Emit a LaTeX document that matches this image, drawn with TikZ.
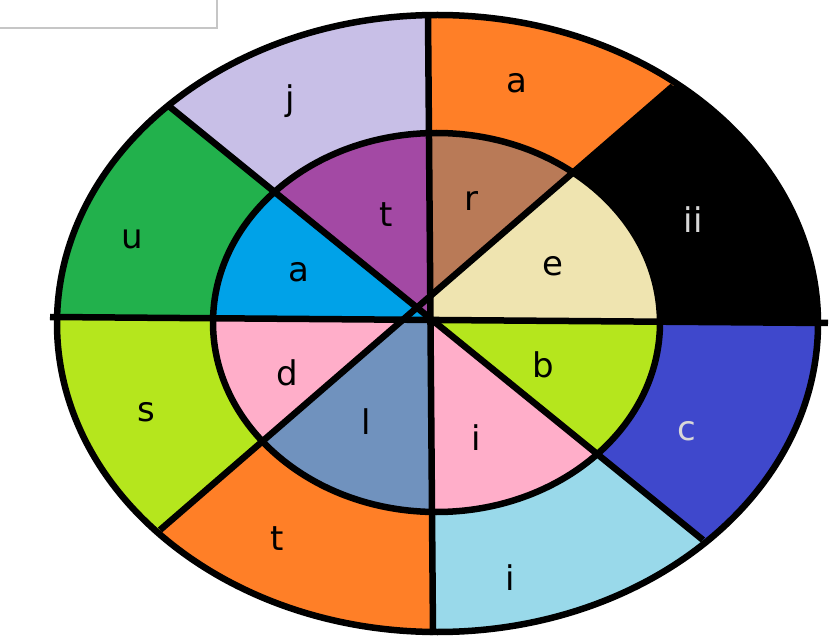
\documentclass[tikz,border=0pt]{standalone}
\usepackage{fontspec}
\setmainfont{DejaVu Sans}
\usetikzlibrary{calc}
\definecolor{cOrange}{HTML}{FF7F27}
\definecolor{cLav}{HTML}{C8BFE7}
\definecolor{cBlue}{HTML}{3F48CC}
\definecolor{cLBlue}{HTML}{99D9EA}
\definecolor{cLime}{HTML}{B5E61D}
\definecolor{cGreen}{HTML}{22B14C}
\definecolor{cPurple}{HTML}{A349A4}
\definecolor{cBrown}{HTML}{B97A57}
\definecolor{cCream}{HTML}{EFE4B0}
\definecolor{cPink}{HTML}{FFAEC9}
\definecolor{cSteel}{HTML}{7092BE}
\definecolor{cCyan}{HTML}{00A2E8}
\definecolor{cLight}{HTML}{D8D8D8}
\begin{document}
\begin{tikzpicture}[x=1pt,y=-1pt,
  lbl/.style={anchor=mid, font=\fontsize{34}{40}\selectfont, inner sep=0pt},
  edge/.style={line width=6.5pt, black},
  rim/.style={line width=6.5pt, black}]
\useasboundingbox (0,0) rectangle (831,639);
% corner box
\draw[gray!45, line width=1.5pt, fill=white] (-10,-10) rectangle (217,28);
% spoke end points
\coordinate (Vt) at (428,15);
\coordinate (Vb) at (433,635);
\coordinate (Hl) at (50,317);
\coordinate (Hr) at (828,323);
\coordinate (Aul) at (170,107);
\coordinate (Alr) at (703,540);
\coordinate (Bur) at (673,86);
\coordinate (Bll) at (160,530);
% crossings
\coordinate (xVB) at (intersection of Vt--Vb and Bur--Bll);
\coordinate (xBH) at (intersection of Bur--Bll and Hl--Hr);
\coordinate (xHA) at (intersection of Hl--Hr and Aul--Alr);
\coordinate (xAV) at (intersection of Aul--Alr and Vt--Vb);
\coordinate (Oc) at (437.5,323.5);
\coordinate (Ic) at (436.5,322.5);
% outer ring
\begin{scope}
\clip (Oc) ellipse [x radius=380.5, y radius=308.5];
\fill[cOrange] (xVB) -- ($(xVB)!2.5!(Vt)$) -- ($(xVB)!2.5!(Bur)$) -- cycle;
\fill[black]   (xBH) -- ($(xBH)!2.5!(Bur)$) -- ($(xBH)!2.5!(Hr)$) -- cycle;
\fill[cBlue]   (xHA) -- ($(xHA)!2.5!(Hr)$) -- ($(xHA)!2.5!(Alr)$) -- cycle;
\fill[cLBlue]  (xAV) -- ($(xAV)!2.5!(Alr)$) -- ($(xAV)!2.5!(Vb)$) -- cycle;
\fill[cOrange] (xVB) -- ($(xVB)!2.5!(Vb)$) -- ($(xVB)!2.5!(Bll)$) -- cycle;
\fill[cLime]   (xBH) -- ($(xBH)!2.5!(Bll)$) -- ($(xBH)!2.5!(Hl)$) -- cycle;
\fill[cGreen]  (xHA) -- ($(xHA)!2.5!(Hl)$) -- ($(xHA)!2.5!(Aul)$) -- cycle;
\fill[cLav]    (xAV) -- ($(xAV)!2.5!(Aul)$) -- ($(xAV)!2.5!(Vt)$) -- cycle;
\end{scope}
% inner disc
\begin{scope}
\clip (Ic) ellipse [x radius=223.5, y radius=189.5];
\fill[cBrown]  (xVB) -- ($(xVB)!2.5!(Vt)$) -- ($(xVB)!2.5!(Bur)$) -- cycle;
\fill[cCream]  (xBH) -- ($(xBH)!2.5!(Bur)$) -- ($(xBH)!2.5!(Hr)$) -- cycle;
\fill[cLime]   (xHA) -- ($(xHA)!2.5!(Hr)$) -- ($(xHA)!2.5!(Alr)$) -- cycle;
\fill[cPink]   (xAV) -- ($(xAV)!2.5!(Alr)$) -- ($(xAV)!2.5!(Vb)$) -- cycle;
\fill[cSteel]  (xVB) -- ($(xVB)!2.5!(Vb)$) -- ($(xVB)!2.5!(Bll)$) -- cycle;
\fill[cPink]   (xBH) -- ($(xBH)!2.5!(Bll)$) -- ($(xBH)!2.5!(Hl)$) -- cycle;
\fill[cCyan]   (xHA) -- ($(xHA)!2.5!(Hl)$) -- ($(xHA)!2.5!(Aul)$) -- cycle;
\fill[cPurple] (xAV) -- ($(xAV)!2.5!(Aul)$) -- ($(xAV)!2.5!(Vt)$) -- cycle;
\end{scope}
% outlines
\draw[rim] (Ic) ellipse [x radius=223.5, y radius=189.5];
\draw[edge] (Vt) -- (Vb);
\draw[edge] (Hl) -- (Hr);
\draw[edge] (Aul) -- (Alr);
\draw[edge] (Bur) -- (Bll);
\draw[rim] (Oc) ellipse [x radius=380.5, y radius=308.5];
% labels
\node[lbl] (lj)  at (290,108) {j};
\node[lbl] (la1) at (517,90) {a};
\node[lbl, text=cLight] (lii) at (693,230) {ii};
\node[lbl] (lu)  at (132,246) {u};
\node[lbl] (lt1) at (386,224) {t};
\node[lbl] (lr)  at (471,208) {r};
\node[lbl] (le)  at (553,273) {e};
\node[lbl] (la2) at (299,279) {a};
\node[lbl] (ld)  at (287,383) {d};
\node[lbl] (lb)  at (543,375) {b};
\node[lbl] (ls)  at (146,419) {s};
\node[lbl] (ll)  at (366,432) {l};
\node[lbl] (li1) at (476,448) {i};
\node[lbl, text=cLight] (lc) at (687,438) {c};
\node[lbl] (lt2) at (277,548) {t};
\node[lbl] (li2) at (510,588) {i};
\end{tikzpicture}
\end{document}
